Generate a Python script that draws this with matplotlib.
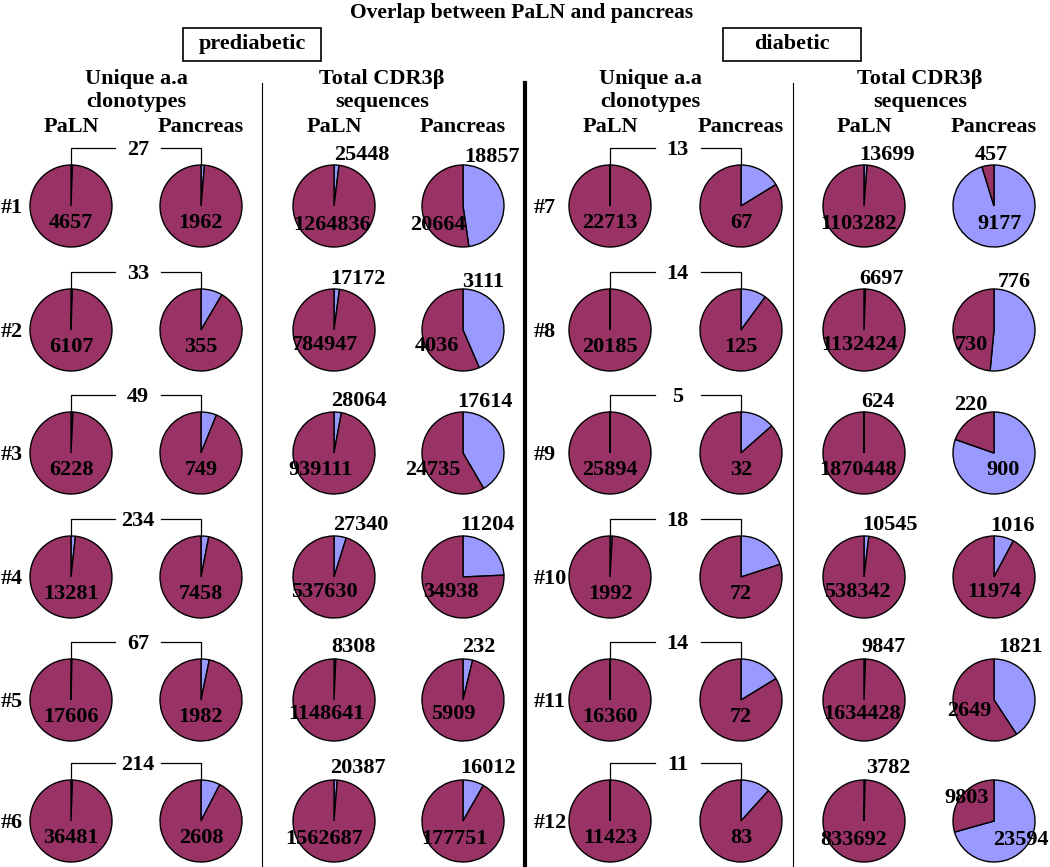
import matplotlib
matplotlib.use("Agg")
import matplotlib.pyplot as plt
from matplotlib.patches import Rectangle
from matplotlib.lines import Line2D

# ---- data ----
mice = ["#1", "#2", "#3", "#4", "#5", "#6", "#7", "#8", "#9", "#10", "#11", "#12"]
# unique a.a clonotypes
uniq_shared = [27, 33, 49, 234, 67, 214, 13, 14, 5, 18, 14, 11]
uniq_paln = [4657, 6107, 6228, 13281, 17606, 36481, 22713, 20185, 25894, 1992, 16360, 11423]
uniq_panc = [1962, 355, 749, 7458, 1982, 2608, 67, 125, 32, 72, 72, 83]
# total CDR3b sequences (blue wedge / red wedge)
tot_paln_blue = [25448, 17172, 28064, 27340, 8308, 20387, 13699, 6697, 624, 10545, 9847, 3782]
tot_paln_red = [1264836, 784947, 939111, 537630, 1148641, 1562687,
                1103282, 1132424, 1870448, 538342, 1634428, 833692]
tot_panc_blue = [18857, 3111, 17614, 11204, 232, 16012, 9177, 776, 900, 1016, 1821, 23594]
tot_panc_red = [20664, 4036, 24735, 34938, 5909, 177751, 457, 730, 220, 11974, 2649, 9803]

# ---- layout (pixels) ----
W, H = 1050, 867
R = 41
RED, BLUE = "#993366", "#9999ff"
row_y = [206, 330, 453, 577, 700, 821]
col_left = [71, 201, 334, 463]
col_right = [610, 741, 864, 994]
# label offsets (dx, dy) for blue value / red value of the "total" pies
paln_off = [((28, -53), (-2, 17)), ((24, -53), (-9, 13)), ((25, -54), (-14, 15)),
            ((27, -54), (-10, 13)), ((20, -55), (-8, 12)), ((24, -55), (-10, 16)),
            ((23, -53), (-5, 16)), ((17, -53), (-5, 13)), ((14, -53), (-6, 15)),
            ((26, -54), (-7, 13)), ((19, -55), (-2, 12)), ((24, -55), (-10, 17))]
panc_off = [((29, -51), (-25, 17)), ((20, -50), (-26, 14)), ((22, -53), (-30, 15)),
            ((24, -54), (-12, 13)), ((16, -55), (-10, 12)), ((25, -55), (-9, 16)),
            ((6, 16), (-3, -53)), ((20, -50), (-23, 13)), ((9, 15), (-23, -50)),
            ((19, -53), (0, 13)), ((26, -55), (-25, 9)), ((27, 17), (-27, -25))]

plt.rcParams['font.family'] = ['Liberation Serif', 'DejaVu Serif']
fig = plt.figure(figsize=(10.5, 8.67), dpi=100)
NUM = 16


def fx(x):
    return x / W


def fy(y):
    return 1 - y / H


def txt(x, y, s, size=NUM, ha='center'):
    fig.text(fx(x), fy(y + 2), s, ha=ha, va='center', fontsize=size, fontweight='bold')


def line(xs, ys, lw=0.9):
    fig.add_artist(Line2D([fx(v) for v in xs], [fy(v) for v in ys], color='black', lw=lw))


def pie(cx, cy, blue, red):
    pad = 3
    ax = fig.add_axes([fx(cx - R - pad), fy(cy + R + pad), (2 * R + 2 * pad) / W, (2 * R + 2 * pad) / H])
    ax.pie([blue, red], colors=[BLUE, RED], startangle=90, counterclock=False,
           wedgeprops=dict(edgecolor='black', linewidth=1.0))
    lim = 1 + pad / R
    ax.set_xlim(-lim, lim)
    ax.set_ylim(-lim, lim)
    ax.axis('off')


# title and group boxes
txt(522, 11, "Overlap between PaLN and pancreas", size=15.5)
for x0, label in [(183, "prediabetic"), (723, "diabetic")]:
    fig.add_artist(Rectangle((fx(x0), fy(61)), 138 / W, 33 / H, transform=fig.transFigure,
                             fill=False, edgecolor='black', lw=1.2))
    txt(x0 + 69, 42, label, size=16)

# column headers
for cols, ux, tx in [(col_left, 136, 382), (col_right, 650, 920)]:
    txt(ux, 77, "Unique a.a", size=16)
    txt(ux, 100, "clonotypes", size=16)
    txt(tx, 77, "Total CDR3β", size=16)
    txt(tx, 100, "sequences", size=16)
    for c in (0, 2):
        txt(cols[c], 125, "PaLN", size=16)
        txt(cols[c + 1], 125, "Pancreas", size=16)

# separators
line([262, 262], [83, 867], lw=0.8)
line([525, 525], [83, 867], lw=3)
line([793, 793], [83, 867], lw=0.8)

for i in range(12):
    cols = col_left if i < 6 else col_right
    cy = row_y[i % 6]
    txt(1 if i < 6 else 534, cy, mice[i], ha='left')

    # unique clonotypes pair with bracket
    pie(cols[0], cy, uniq_shared[i], uniq_paln[i])
    pie(cols[1], cy, uniq_shared[i], uniq_panc[i])
    txt(cols[0], cy + 15, str(uniq_paln[i]))
    txt(cols[1], cy + 15, str(uniq_panc[i]))
    by = cy - 58
    mid = (cols[0] + cols[1]) / 2 + 2
    line([cols[0], cols[0], mid - 23], [cy - R, by, by])
    line([mid + 23, cols[1], cols[1]], [by, by, cy - R])
    txt(mid, by, str(uniq_shared[i]))

    # total sequences
    pie(cols[2], cy, tot_paln_blue[i], tot_paln_red[i])
    (bdx, bdy), (rdx, rdy) = paln_off[i]
    txt(cols[2] + bdx, cy + bdy, str(tot_paln_blue[i]))
    txt(cols[2] + rdx, cy + rdy, str(tot_paln_red[i]))

    pie(cols[3], cy, tot_panc_blue[i], tot_panc_red[i])
    (bdx, bdy), (rdx, rdy) = panc_off[i]
    txt(cols[3] + bdx, cy + bdy, str(tot_panc_blue[i]))
    txt(cols[3] + rdx, cy + rdy, str(tot_panc_red[i]))

fig.savefig("out.png", dpi=100)
